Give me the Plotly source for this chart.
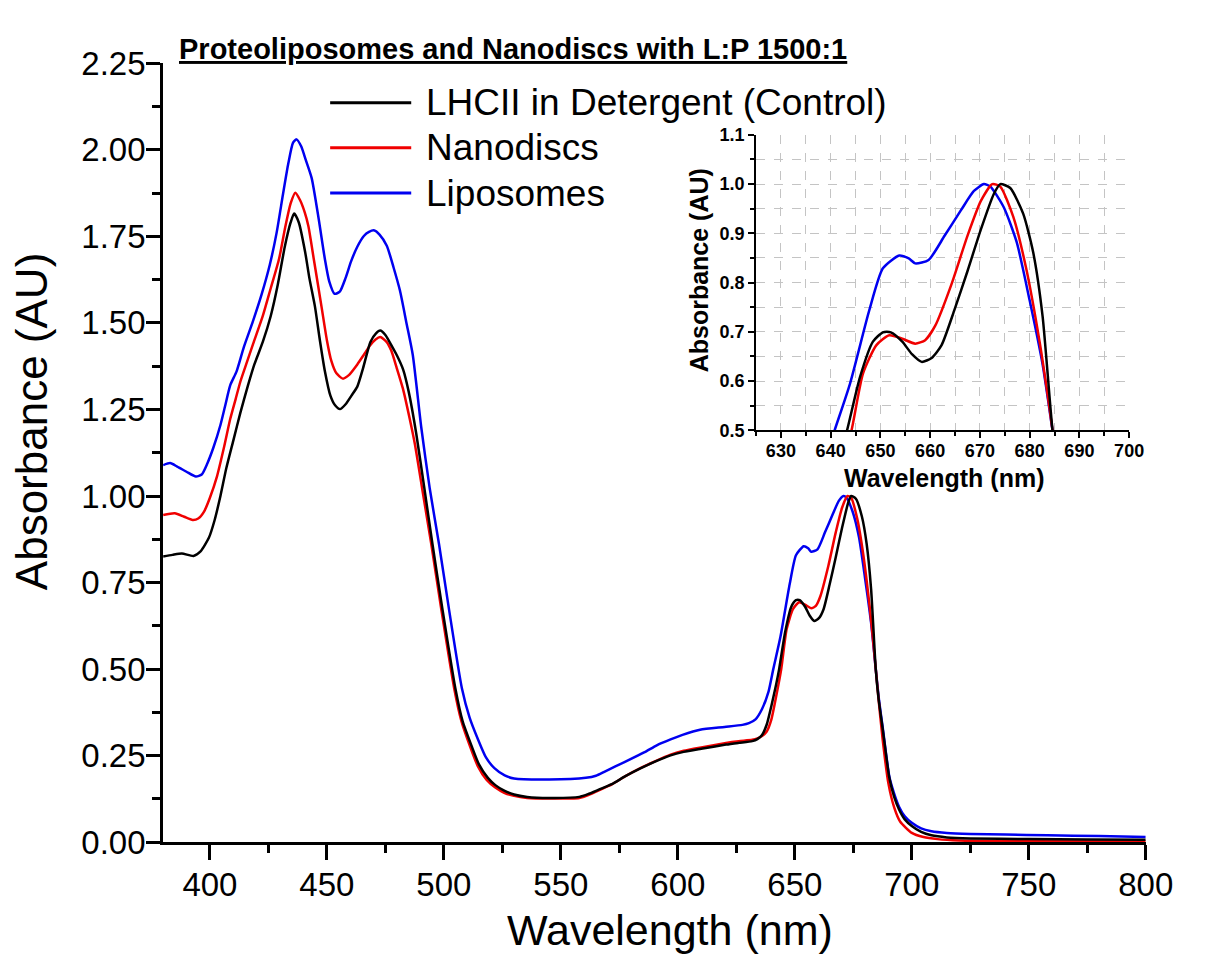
import plotly.graph_objects as go

# ---------------- data ----------------
black_wl = [380, 384, 388, 393, 396, 399.6, 402, 404.5, 407, 410, 413, 416.3, 419, 422.6, 426, 429, 432, 434.5,
            436, 438, 440.7, 442.5, 444.9, 447, 449.1, 451.5, 453.5, 455.6, 458, 460.5, 463, 465.5, 468.6, 471,
            472.8, 475, 478, 480, 482.6, 485, 488.2, 491.5, 495.1, 499.3, 504.9, 508, 511.8, 515, 518.8, 522,
            525.8, 530, 535.6, 545, 557.9, 562, 566.2, 571.8, 577.4, 584, 590, 596.9, 602.5, 610, 620.6, 626,
            631.8, 634, 636, 638, 640.2, 642, 643.3, 645.9, 648.5, 650.5, 652.1, 654.4, 656.4, 658.3, 660.3,
            662.3, 664.9, 667.5, 670.2, 672.8, 674.1, 676.1, 678.7, 680.7, 682.6, 684.6, 685.8, 687.6, 690.4,
            692.5, 694.6, 697, 700, 704, 708.4, 715, 725, 750, 775, 800]
black_abs = [0.825, 0.83, 0.834, 0.827, 0.84, 0.88, 0.93, 1.0, 1.08, 1.16, 1.24, 1.32, 1.38, 1.445, 1.52, 1.61,
             1.72, 1.79, 1.816, 1.79, 1.705, 1.63, 1.547, 1.45, 1.362, 1.29, 1.262, 1.251, 1.265, 1.29, 1.316,
             1.37, 1.445, 1.47, 1.478, 1.465, 1.43, 1.405, 1.365, 1.30, 1.18, 1.03, 0.862, 0.677, 0.445, 0.35,
             0.279, 0.225, 0.186, 0.165, 0.149, 0.138, 0.131, 0.128, 0.131, 0.14, 0.152, 0.168, 0.19, 0.213,
             0.232, 0.251, 0.261, 0.27, 0.282, 0.287, 0.292, 0.298, 0.31, 0.34, 0.40, 0.455, 0.5, 0.608, 0.68,
             0.699, 0.699, 0.68, 0.654, 0.639, 0.647, 0.673, 0.745, 0.823, 0.908, 0.98, 1.0, 0.992, 0.94, 0.862,
             0.732, 0.5, 0.415, 0.325, 0.186, 0.13, 0.094, 0.066, 0.047, 0.03, 0.02, 0.014, 0.011, 0.009, 0.008,
             0.007]

red_wl = [380, 385, 389, 392.6, 395, 397.5, 400, 403, 406, 408.7, 411, 413, 416, 418.5, 422.6, 426, 429.6, 432,
          434.5, 436.5, 438.5, 440.5, 442.1, 444.5, 447.7, 450, 451.9, 454, 456.8, 459.5, 463, 466, 468.6, 470.8,
          472.8, 475.5, 477.5, 479.8, 482.5, 485.4, 487.6, 491, 494.6, 498.8, 504.4, 507.5, 511.3, 514.5, 518.3,
          522, 525.8, 530, 535.6, 545, 557.9, 562, 566.2, 571.8, 577.4, 584, 590, 596.9, 602.5, 610, 620.6, 626,
          631.8, 634, 636, 638, 640, 642, 644.2, 646.5, 649.2, 651.8, 654.4, 657, 659, 661, 664.3, 667.5, 670.2,
          672.5, 674.1, 676.7, 679.3, 682, 683.5, 684.6, 685.7, 687.5, 690, 692.5, 695, 700, 705, 711, 720, 750,
          800]
red_abs = [0.945, 0.95, 0.94, 0.931, 0.935, 0.955, 0.995, 1.056, 1.14, 1.223, 1.28, 1.33, 1.39, 1.44, 1.52, 1.60,
           1.686, 1.77, 1.845, 1.876, 1.855, 1.82, 1.779, 1.68, 1.547, 1.45, 1.39, 1.355, 1.339, 1.35, 1.38, 1.41,
           1.436, 1.452, 1.459, 1.445, 1.42, 1.371, 1.31, 1.223, 1.15, 1.01, 0.862, 0.677, 0.445, 0.35, 0.275,
           0.22, 0.18, 0.158, 0.143, 0.134, 0.128, 0.126, 0.128, 0.137, 0.15, 0.167, 0.19, 0.214, 0.233, 0.253,
           0.264, 0.274, 0.287, 0.292, 0.296, 0.3, 0.307, 0.32, 0.355, 0.42, 0.5, 0.615, 0.673, 0.693, 0.686,
           0.676, 0.683, 0.712, 0.797, 0.895, 0.966, 1.0, 0.995, 0.934, 0.829, 0.68, 0.58, 0.5, 0.42, 0.3, 0.17,
           0.1, 0.06, 0.027, 0.015, 0.009, 0.005, 0.003, 0.002]

blue_wl = [380, 383, 386, 390, 394, 396.5, 398.9, 401.5, 404.5, 406.5, 408.7, 411.4, 414.5, 418.3, 422, 425.6,
           428.5, 431.2, 433.5, 435.5, 437, 439, 441, 443.5, 446.5, 449.1, 451, 453.3, 455.5, 458, 460.3, 463,
           465.8, 468, 470.3, 472.5, 475.6, 478.5, 481.2, 484, 486.7, 490.3, 494, 497.9, 502.1, 507.7, 511,
           514.6, 518, 521.6, 526, 530, 545, 560.7, 565, 569, 577.4, 585.8, 591, 596.9, 602, 609.5, 620, 627.6,
           630.4, 633.2, 636, 638.8, 640.8, 643.9, 647.8, 650.5, 653.8, 655.7, 657, 659.7, 662.9, 666.2, 668.8,
           670.8, 672.1, 674.8, 677.4, 680, 682.6, 684.6, 686, 687.6, 690.4, 692.5, 694.6, 697, 700, 704, 708.4,
           715, 725, 740, 758, 780, 800]
blue_abs = [1.089, 1.095, 1.085, 1.07, 1.056, 1.062, 1.094, 1.14, 1.205, 1.26, 1.32, 1.36, 1.43, 1.503, 1.58,
            1.668, 1.76, 1.87, 1.96, 2.02, 2.03, 2.01, 1.97, 1.918, 1.80, 1.686, 1.62, 1.584, 1.59, 1.63, 1.677,
            1.72, 1.751, 1.763, 1.767, 1.755, 1.723, 1.66, 1.594, 1.50, 1.408, 1.20, 1.02, 0.862, 0.677, 0.445,
            0.36, 0.297, 0.245, 0.214, 0.193, 0.184, 0.181, 0.186, 0.192, 0.205, 0.232, 0.26, 0.28, 0.297, 0.31,
            0.325, 0.333, 0.339, 0.344, 0.355, 0.385, 0.436, 0.5, 0.595, 0.745, 0.829, 0.855, 0.849, 0.839, 0.846,
            0.895, 0.947, 0.986, 1.0, 0.995, 0.953, 0.882, 0.764, 0.634, 0.5, 0.41, 0.33, 0.19, 0.14, 0.102,
            0.075, 0.056, 0.04, 0.032, 0.027, 0.024, 0.022, 0.02, 0.018, 0.015]

series_names = ["LHCII in Detergent (Control)", "Nanodiscs", "Liposomes"]
series_colors = ["#000000", "#f00000", "#0000f0"]
title_text = "Proteoliposomes and Nanodiscs with L:P 1500:1"

main_xticks = [400, 450, 500, 550, 600, 650, 700, 750, 800]
main_yticks = [0.00, 0.25, 0.50, 0.75, 1.00, 1.25, 1.50, 1.75, 2.00, 2.25]
inset_xticks = [630, 640, 650, 660, 670, 680, 690, 700]
inset_yticks = [0.5, 0.6, 0.7, 0.8, 0.9, 1.0, 1.1]

# ---------------- layout helpers (pixel -> paper) ----------------
W, H = 1205, 968
def px(x):
    return x / W
def py(y):
    return 1 - y / H

FONT = "Liberation Sans, Arial, sans-serif"

fig = go.Figure()
data = [(black_wl, black_abs), (red_wl, red_abs), (blue_wl, blue_abs)]
order = [2, 1, 0]
for ax in ["", "2"]:
    for i in order:
        wl, ab = data[i]
        fig.add_trace(go.Scatter(
            x=wl, y=ab, mode="lines", name=series_names[i],
            line=dict(color=series_colors[i], width=2.5, shape="spline", smoothing=0.6),
            xaxis="x" + ax, yaxis="y" + ax, showlegend=False, hoverinfo="skip"))

axis_common = dict(showline=True, linecolor="black", mirror=False, zeroline=False,
                   ticks="outside", tickcolor="black")

fig.update_layout(
    width=W, height=H, margin=dict(l=0, r=0, t=0, b=0),
    paper_bgcolor="white", plot_bgcolor="white",
    xaxis=dict(**axis_common, domain=[px(167), px(1173)], range=[380, 800],
               tickvals=main_xticks, ticklen=15, tickwidth=3, linewidth=3, showgrid=False,
               ticklabelstandoff=-4,
               tickfont=dict(family=FONT, size=33, color="black"),
               minor=dict(ticks="outside", dtick=25, tick0=0, ticklen=8, tickwidth=3, tickcolor="black"),
               anchor="y"),
    yaxis=dict(**axis_common, domain=[py(857), py(47)], range=[0, 2.25],
               tickvals=main_yticks, tickformat=".2f", ticklen=14, tickwidth=3, linewidth=3, showgrid=False,
               ticklabelstandoff=-6,
               tickfont=dict(family=FONT, size=33, color="black"),
               minor=dict(ticks="outside", dtick=0.125, tick0=0, ticklen=8, tickwidth=3, tickcolor="black"),
               anchor="x"),
    xaxis2=dict(**axis_common, domain=[px(774), px(1156)], range=[625, 700],
                tickvals=inset_xticks, ticklen=6, tickwidth=2, linewidth=2,
                ticklabelstandoff=-3,
                showgrid=True, gridcolor="#c4c4c4", gridwidth=1, griddash="dash",
                tickfont=dict(family=FONT, size=18, color="black", weight="bold"),
                minor=dict(ticks="outside", dtick=5, tick0=0, ticklen=4, tickwidth=2, tickcolor="black",
                           showgrid=True, gridcolor="#c4c4c4", gridwidth=1, griddash="dash"),
                anchor="y2"),
    yaxis2=dict(**axis_common, domain=[py(428.7), py(121.5)], range=[0.5, 1.1],
                tickvals=inset_yticks, tickformat=".1f", ticklen=6, tickwidth=2, linewidth=2,
                showgrid=True, gridcolor="#c4c4c4", gridwidth=1, griddash="dash",
                tickfont=dict(family=FONT, size=18, color="black", weight="bold"),
                minor=dict(ticks="outside", dtick=0.05, tick0=0, ticklen=4, tickwidth=2, tickcolor="black",
                           showgrid=True, gridcolor="#c4c4c4", gridwidth=1, griddash="dash"),
                anchor="x2"),
)

annotations = []
# title
annotations.append(dict(text="<b><u>" + title_text + "</u></b>", x=px(181), y=py(32), xref="paper", yref="paper",
                        xanchor="left", yanchor="middle", showarrow=False,
                        font=dict(family=FONT, size=29, color="black")))
# main axis titles
annotations.append(dict(text="Wavelength (nm)", x=px(686), y=py(948), xref="paper", yref="paper",
                        xanchor="center", yanchor="middle", showarrow=False,
                        font=dict(family=FONT, size=43, color="black")))
annotations.append(dict(text="Absorbance (AU)", x=px(33), y=py(420), xref="paper", yref="paper",
                        xanchor="center", yanchor="middle", showarrow=False, textangle=-90,
                        font=dict(family=FONT, size=44, color="black")))
# inset axis titles
annotations.append(dict(text="<b>Wavelength (nm)</b>", x=px(966), y=py(478), xref="paper", yref="paper",
                        xanchor="center", yanchor="middle", showarrow=False,
                        font=dict(family=FONT, size=25, color="black")))
annotations.append(dict(text="<b>Absorbance (AU)</b>", x=px(716), y=py(262), xref="paper", yref="paper",
                        xanchor="center", yanchor="middle", showarrow=False, textangle=-90,
                        font=dict(family=FONT, size=25, color="black")))

# custom legend (long line samples)
shapes = []
leg_y = [88, 135, 182]
for i in range(3):
    shapes.append(dict(type="line", xref="paper", yref="paper", x0=px(338), x1=px(421),
                       y0=py(leg_y[i]), y1=py(leg_y[i]), line=dict(color=series_colors[i], width=3)))
    annotations.append(dict(text=series_names[i], x=px(434), y=py(leg_y[i]), xref="paper", yref="paper",
                            xanchor="left", yanchor="middle", showarrow=False,
                            font=dict(family=FONT, size=37, color="black")))

fig.update_layout(annotations=annotations, shapes=shapes)
fig.write_html("out.html")
